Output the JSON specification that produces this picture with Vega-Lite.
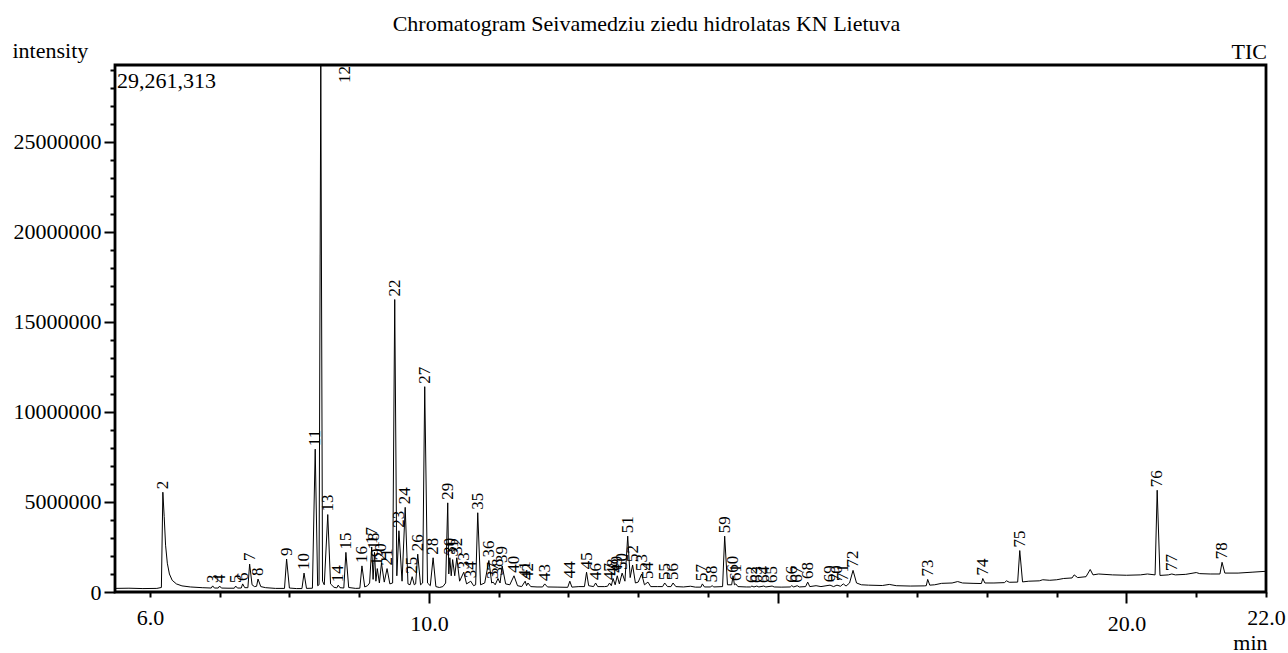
{
  "$schema": "https://vega.github.io/schema/vega-lite/v6.json",
  "width": 1151,
  "height": 527,
  "autosize": "none",
  "padding": {"left": 115, "top": 65, "right": 22, "bottom": 61},
  "background": "white",
  "config": {
    "font": "Liberation Serif",
    "view": {"stroke": "black", "strokeWidth": 2.8},
    "axis": {"grid": false, "domain": false, "tickColor": "black", "tickWidth": 2, "labelColor": "black", "titleColor": "black", "labelFont": "Liberation Serif", "titleFont": "Liberation Serif", "labelFontSize": 22, "titleFontSize": 22, "titleFontWeight": "normal", "labelOverlap": false}
  },
  "title": {"text": "Chromatogram Seivamedziu ziedu hidrolatas KN Lietuva", "font": "Liberation Serif", "fontSize": 22, "fontWeight": "normal", "color": "black", "anchor": "middle", "dx": -44, "baseline": "alphabetic", "offset": -14},
  "datasets": {
    "trace": [
      {"t":5.50,"v":200000},{"t":5.70,"v":210000},{"t":5.90,"v":190000},{"t":6.10,"v":200000},{"t":6.165,"v":250000},
      {"t":6.186,"v":5540000},{"t":6.205,"v":4200000},{"t":6.225,"v":2600000},{"t":6.25,"v":1600000},{"t":6.28,"v":1000000},
      {"t":6.32,"v":650000},{"t":6.38,"v":450000},{"t":6.46,"v":340000},{"t":6.58,"v":280000},{"t":6.75,"v":240000},
      {"t":6.88,"v":220000},{"t":6.90,"v":340000},{"t":6.925,"v":220000},{"t":6.98,"v":220000},{"t":7.00,"v":330000},
      {"t":7.025,"v":220000},{"t":7.12,"v":210000},{"t":7.21,"v":210000},{"t":7.23,"v":330000},{"t":7.255,"v":220000},
      {"t":7.31,"v":220000},{"t":7.33,"v":450000},{"t":7.36,"v":240000},{"t":7.405,"v":240000},{"t":7.43,"v":1550000},
      {"t":7.465,"v":400000},{"t":7.50,"v":300000},{"t":7.53,"v":320000},{"t":7.55,"v":720000},{"t":7.59,"v":300000},
      {"t":7.66,"v":240000},{"t":7.80,"v":200000},{"t":7.93,"v":200000},{"t":7.96,"v":1830000},{"t":8.00,"v":220000},
      {"t":8.10,"v":190000},{"t":8.18,"v":190000},{"t":8.21,"v":1050000},{"t":8.245,"v":200000},{"t":8.33,"v":210000},
      {"t":8.37,"v":7930000},{"t":8.405,"v":350000},{"t":8.425,"v":400000},{"t":8.45,"v":29261313},{"t":8.475,"v":600000},
      {"t":8.50,"v":400000},{"t":8.55,"v":4300000},{"t":8.59,"v":450000},{"t":8.64,"v":260000},{"t":8.68,"v":230000},
      {"t":8.70,"v":380000},{"t":8.725,"v":240000},{"t":8.78,"v":220000},{"t":8.81,"v":2200000},{"t":8.85,"v":250000},
      {"t":8.95,"v":200000},{"t":9.01,"v":210000},{"t":9.04,"v":1450000},{"t":9.08,"v":280000},{"t":9.12,"v":350000},
      {"t":9.15,"v":500000},{"t":9.18,"v":2500000},{"t":9.20,"v":700000},{"t":9.22,"v":2200000},{"t":9.24,"v":600000},
      {"t":9.26,"v":1300000},{"t":9.29,"v":500000},{"t":9.32,"v":1600000},{"t":9.36,"v":550000},{"t":9.40,"v":1300000},
      {"t":9.44,"v":450000},{"t":9.48,"v":500000},{"t":9.51,"v":16240000},{"t":9.54,"v":900000},{"t":9.57,"v":3400000},
      {"t":9.615,"v":600000},{"t":9.66,"v":4700000},{"t":9.70,"v":450000},{"t":9.73,"v":400000},{"t":9.76,"v":850000},
      {"t":9.79,"v":400000},{"t":9.81,"v":450000},{"t":9.84,"v":2100000},{"t":9.88,"v":400000},{"t":9.91,"v":500000},
      {"t":9.94,"v":11400000},{"t":9.98,"v":500000},{"t":10.02,"v":350000},{"t":10.06,"v":1900000},{"t":10.10,"v":300000},
      {"t":10.15,"v":250000},{"t":10.20,"v":300000},{"t":10.24,"v":500000},{"t":10.27,"v":4950000},{"t":10.285,"v":1000000},
      {"t":10.30,"v":1900000},{"t":10.32,"v":900000},{"t":10.34,"v":1800000},{"t":10.37,"v":900000},{"t":10.40,"v":1900000},
      {"t":10.44,"v":600000},{"t":10.50,"v":1100000},{"t":10.54,"v":450000},{"t":10.60,"v":600000},{"t":10.64,"v":350000},
      {"t":10.67,"v":400000},{"t":10.70,"v":4400000},{"t":10.74,"v":400000},{"t":10.80,"v":500000},{"t":10.86,"v":1750000},
      {"t":10.90,"v":500000},{"t":10.92,"v":550000},{"t":10.95,"v":400000},{"t":10.99,"v":750000},{"t":11.02,"v":500000},
      {"t":11.05,"v":1450000},{"t":11.10,"v":450000},{"t":11.16,"v":400000},{"t":11.22,"v":900000},{"t":11.27,"v":350000},
      {"t":11.33,"v":300000},{"t":11.38,"v":600000},{"t":11.40,"v":350000},{"t":11.42,"v":500000},{"t":11.46,"v":300000},
      {"t":11.55,"v":280000},{"t":11.63,"v":280000},{"t":11.66,"v":450000},{"t":11.70,"v":280000},{"t":11.85,"v":270000},
      {"t":11.99,"v":260000},{"t":12.02,"v":600000},{"t":12.05,"v":270000},{"t":12.15,"v":300000},{"t":12.23,"v":300000},
      {"t":12.26,"v":1100000},{"t":12.29,"v":350000},{"t":12.36,"v":300000},{"t":12.39,"v":500000},{"t":12.42,"v":300000},
      {"t":12.52,"v":300000},{"t":12.56,"v":320000},{"t":12.59,"v":500000},{"t":12.615,"v":350000},{"t":12.64,"v":750000},
      {"t":12.67,"v":400000},{"t":12.70,"v":900000},{"t":12.73,"v":450000},{"t":12.77,"v":1050000},{"t":12.81,"v":600000},
      {"t":12.85,"v":3100000},{"t":12.885,"v":800000},{"t":12.92,"v":1500000},{"t":12.96,"v":500000},{"t":13.00,"v":550000},
      {"t":13.05,"v":1000000},{"t":13.09,"v":400000},{"t":13.14,"v":550000},{"t":13.18,"v":300000},{"t":13.28,"v":300000},
      {"t":13.35,"v":300000},{"t":13.38,"v":500000},{"t":13.42,"v":300000},{"t":13.47,"v":300000},{"t":13.50,"v":500000},
      {"t":13.54,"v":300000},{"t":13.65,"v":280000},{"t":13.75,"v":320000},{"t":13.82,"v":270000},{"t":13.90,"v":270000},
      {"t":13.92,"v":450000},{"t":13.95,"v":280000},{"t":14.04,"v":280000},{"t":14.06,"v":360000},{"t":14.08,"v":280000},
      {"t":14.21,"v":300000},{"t":14.24,"v":3100000},{"t":14.28,"v":400000},{"t":14.34,"v":400000},{"t":14.36,"v":900000},
      {"t":14.38,"v":400000},{"t":14.40,"v":450000},{"t":14.43,"v":300000},{"t":14.55,"v":280000},{"t":14.61,"v":280000},
      {"t":14.63,"v":330000},{"t":14.66,"v":280000},{"t":14.70,"v":330000},{"t":14.73,"v":280000},{"t":14.80,"v":330000},
      {"t":14.83,"v":280000},{"t":14.92,"v":330000},{"t":14.95,"v":280000},{"t":15.05,"v":270000},{"t":15.18,"v":280000},
      {"t":15.20,"v":350000},{"t":15.23,"v":280000},{"t":15.28,"v":350000},{"t":15.31,"v":280000},{"t":15.40,"v":300000},
      {"t":15.43,"v":550000},{"t":15.46,"v":300000},{"t":15.55,"v":350000},{"t":15.62,"v":300000},{"t":15.75,"v":380000},
      {"t":15.80,"v":300000},{"t":15.85,"v":380000},{"t":15.90,"v":320000},{"t":15.94,"v":450000},{"t":15.98,"v":330000},
      {"t":16.03,"v":500000},{"t":16.08,"v":1200000},{"t":16.13,"v":500000},{"t":16.20,"v":400000},{"t":16.30,"v":380000},
      {"t":16.50,"v":360000},{"t":16.60,"v":420000},{"t":16.70,"v":350000},{"t":16.90,"v":330000},{"t":17.10,"v":340000},
      {"t":17.13,"v":350000},{"t":17.15,"v":700000},{"t":17.18,"v":380000},{"t":17.25,"v":400000},{"t":17.35,"v":480000},
      {"t":17.50,"v":500000},{"t":17.58,"v":580000},{"t":17.65,"v":500000},{"t":17.80,"v":480000},{"t":17.92,"v":470000},
      {"t":17.94,"v":750000},{"t":17.97,"v":500000},{"t":18.10,"v":500000},{"t":18.25,"v":520000},{"t":18.28,"v":620000},
      {"t":18.32,"v":540000},{"t":18.44,"v":550000},{"t":18.47,"v":2300000},{"t":18.51,"v":560000},{"t":18.60,"v":600000},
      {"t":18.75,"v":620000},{"t":18.80,"v":680000},{"t":18.90,"v":650000},{"t":19.00,"v":680000},{"t":19.10,"v":750000},
      {"t":19.22,"v":780000},{"t":19.25,"v":950000},{"t":19.30,"v":800000},{"t":19.42,"v":850000},{"t":19.48,"v":1250000},
      {"t":19.52,"v":950000},{"t":19.60,"v":1000000},{"t":19.80,"v":950000},{"t":20.00,"v":930000},{"t":20.20,"v":950000},
      {"t":20.30,"v":1000000},{"t":20.41,"v":950000},{"t":20.44,"v":5650000},{"t":20.48,"v":920000},{"t":20.60,"v":950000},
      {"t":20.65,"v":1000000},{"t":20.70,"v":950000},{"t":20.85,"v":980000},{"t":21.00,"v":1080000},{"t":21.05,"v":1020000},
      {"t":21.20,"v":1000000},{"t":21.34,"v":1000000},{"t":21.37,"v":1650000},{"t":21.41,"v":1050000},{"t":21.60,"v":1050000},
      {"t":21.80,"v":1100000},{"t":22.00,"v":1150000}
    ],
    "peaks": [
      {"id":2,"t":6.186,"v":5540000},{"id":3,"t":6.90,"v":340000},{"id":4,"t":7.00,"v":330000},{"id":5,"t":7.23,"v":330000},
      {"id":6,"t":7.33,"v":450000},{"id":7,"t":7.43,"v":1550000},{"id":8,"t":7.55,"v":720000},{"id":9,"t":7.96,"v":1830000},
      {"id":10,"t":8.21,"v":1050000},{"id":11,"t":8.37,"v":7930000},{"id":12,"t":8.45,"v":29261313},{"id":13,"t":8.55,"v":4300000},
      {"id":14,"t":8.70,"v":380000},{"id":15,"t":8.81,"v":2200000},{"id":16,"t":9.04,"v":1450000},{"id":17,"t":9.18,"v":2500000},
      {"id":18,"t":9.22,"v":2200000},{"id":19,"t":9.26,"v":1300000},{"id":20,"t":9.32,"v":1600000},{"id":21,"t":9.40,"v":1300000},
      {"id":22,"t":9.51,"v":16240000},{"id":23,"t":9.57,"v":3400000},{"id":24,"t":9.66,"v":4700000},{"id":25,"t":9.76,"v":850000},
      {"id":26,"t":9.84,"v":2100000},{"id":27,"t":9.94,"v":11400000},{"id":28,"t":10.06,"v":1900000},{"id":29,"t":10.27,"v":4950000},
      {"id":30,"t":10.30,"v":1900000},{"id":31,"t":10.34,"v":1800000},{"id":32,"t":10.40,"v":1900000},{"id":33,"t":10.50,"v":1100000},
      {"id":34,"t":10.60,"v":600000},{"id":35,"t":10.70,"v":4400000},{"id":36,"t":10.86,"v":1750000},{"id":37,"t":10.92,"v":550000},
      {"id":38,"t":10.99,"v":750000},{"id":39,"t":11.05,"v":1450000},{"id":40,"t":11.22,"v":900000},{"id":41,"t":11.38,"v":600000},
      {"id":42,"t":11.42,"v":500000},{"id":43,"t":11.66,"v":450000},{"id":44,"t":12.02,"v":600000},{"id":45,"t":12.26,"v":1100000},
      {"id":46,"t":12.39,"v":500000},{"id":47,"t":12.59,"v":500000},{"id":48,"t":12.64,"v":750000},{"id":49,"t":12.70,"v":900000},
      {"id":50,"t":12.77,"v":1050000},{"id":51,"t":12.85,"v":3100000},{"id":52,"t":12.92,"v":1500000},{"id":53,"t":13.05,"v":1000000},
      {"id":54,"t":13.14,"v":550000},{"id":55,"t":13.38,"v":500000},{"id":56,"t":13.50,"v":500000},{"id":57,"t":13.92,"v":450000},
      {"id":58,"t":14.06,"v":360000},{"id":59,"t":14.24,"v":3100000},{"id":60,"t":14.36,"v":900000},{"id":61,"t":14.40,"v":450000},
      {"id":62,"t":14.63,"v":330000},{"id":63,"t":14.70,"v":330000},{"id":64,"t":14.80,"v":330000},{"id":65,"t":14.92,"v":330000},
      {"id":66,"t":15.20,"v":350000},{"id":67,"t":15.28,"v":350000},{"id":68,"t":15.43,"v":550000},{"id":69,"t":15.75,"v":380000},
      {"id":70,"t":15.85,"v":380000},{"id":71,"t":15.94,"v":450000},{"id":72,"t":16.08,"v":1200000},{"id":73,"t":17.15,"v":700000},
      {"id":74,"t":17.94,"v":750000},{"id":75,"t":18.47,"v":2300000},{"id":76,"t":20.44,"v":5650000},{"id":77,"t":20.65,"v":1000000},
      {"id":78,"t":21.37,"v":1650000}
    ],
    "notes": [
      {"t": 5.5, "v": 29261313, "label": "29,261,313"}
    ],
    "tic": [
      {"t": 22, "v": 29261313, "label": "TIC"}
    ]
  },
  "layer": [
    {
      "data": {"name": "trace"},
      "mark": {"type": "line", "color": "black", "strokeWidth": 1, "interpolate": "linear"},
      "encoding": {
        "x": {"field": "t", "type": "quantitative", "scale": {"domain": [5.5, 22], "nice": false, "zero": false},
          "axis": {"values": [6,7,8,9,10,11,12,13,14,15,16,17,18,19,20,21,22], "tickCount": 200,
            "labelExpr": "indexof([6,10,20,22], datum.value) >= 0 ? format(datum.value, '.1f') : ''",
            "tickSize": {"condition": {"test": "datum.value % 5 === 0", "value": 11}, "value": 5},
            "labelPadding": 10, "labelFlush": false, "labelOverlap": false, "labelBound": false,
            "title": "min", "titleX": 1152, "titleY": 57, "titleAlign": "right", "titleBaseline": "alphabetic", "titleAnchor": null}},
        "y": {"field": "v", "type": "quantitative", "scale": {"domain": [0, 29261313], "nice": false},
          "axis": {"values": [0,1000000,2000000,3000000,4000000,5000000,6000000,7000000,8000000,9000000,10000000,11000000,12000000,13000000,14000000,15000000,16000000,17000000,18000000,19000000,20000000,21000000,22000000,23000000,24000000,25000000,26000000,27000000,28000000,29000000], "tickCount": 200,
            "labelExpr": "datum.value % 5000000 === 0 ? format(datum.value, 'd') : ''",
            "tickSize": {"condition": {"test": "datum.value % 5000000 === 0", "value": 11}, "value": 5},
            "labelPadding": 3, "labelFlush": false, "labelOverlap": false, "labelBound": false,
            "title": "intensity", "titleAngle": 0, "titleX": -103, "titleY": -8, "titleAlign": "left", "titleBaseline": "alphabetic", "titleAnchor": null}}
      }
    },
    {
      "data": {"name": "peaks"},
      "transform": [{"filter": "datum.id != 12"}],
      "mark": {"type": "text", "angle": 270, "align": "left", "baseline": "middle", "dx": 3, "fontSize": 17, "font": "Liberation Serif", "color": "black"},
      "encoding": {
        "x": {"field": "t", "type": "quantitative"},
        "y": {"field": "v", "type": "quantitative"},
        "text": {"field": "id", "type": "nominal"}
      }
    },
    {
      "data": {"name": "peaks"},
      "transform": [{"filter": "datum.id == 12"}],
      "mark": {"type": "text", "angle": 270, "align": "right", "baseline": "middle", "dx": -1, "dy": 24, "fontSize": 17, "font": "Liberation Serif", "color": "black"},
      "encoding": {
        "x": {"field": "t", "type": "quantitative"},
        "y": {"field": "v", "type": "quantitative"},
        "text": {"field": "id", "type": "nominal"}
      }
    },
    {
      "data": {"name": "notes"},
      "mark": {"type": "text", "align": "left", "baseline": "alphabetic", "dx": 2, "dy": 23, "fontSize": 22, "font": "Liberation Serif", "color": "black"},
      "encoding": {"x": {"field": "t", "type": "quantitative"}, "y": {"field": "v", "type": "quantitative"}, "text": {"field": "label"}}
    },
    {
      "data": {"name": "tic"},
      "mark": {"type": "text", "align": "right", "baseline": "alphabetic", "dx": 1, "dy": -6, "fontSize": 22, "font": "Liberation Serif", "color": "black"},
      "encoding": {"x": {"field": "t", "type": "quantitative"}, "y": {"field": "v", "type": "quantitative"}, "text": {"field": "label"}}
    }
  ]
}
